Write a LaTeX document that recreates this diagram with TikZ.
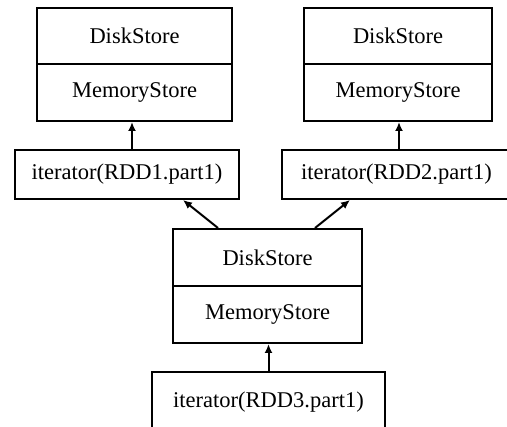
\documentclass[tikz,border=0pt]{standalone}
\usepackage{fontspec}
\setmainfont{Liberation Serif}
\usetikzlibrary{arrows.meta}
\begin{document}
\begin{tikzpicture}[x=1pt,y=-1pt,
  box/.style={draw, line width=2pt, inner sep=0pt, font=\fontsize{22.5}{26}\selectfont},
  arr/.style={line width=2pt, -{Latex[length=9pt,width=8pt]}}]
  \useasboundingbox (0,0) rectangle (507,427);
  \clip (0,0) rectangle (507,427);

  % left store and its iterator
  \node[box, minimum width=195.6pt, minimum height=56pt] (s1disk) at (134.5,36) {DiskStore};
  \node[box, minimum width=195.6pt, minimum height=57pt] (s1mem) at (134.5,92.5) {MemoryStore};
  \node[box, minimum width=224pt, minimum height=49pt] (it1) at (127,174.5) {iterator(RDD1.part1)};

  % right store and its iterator
  \node[box, minimum width=188pt, minimum height=56pt] (s2disk) at (398,36) {DiskStore};
  \node[box, minimum width=188pt, minimum height=57pt] (s2mem) at (398,92.5) {MemoryStore};
  \node[box, minimum width=229pt, minimum height=49pt] (it2) at (396.5,174.5) {iterator(RDD2.part1)};

  % middle store and its iterator
  \node[box, minimum width=189pt, minimum height=57pt] (s3disk) at (267.5,257.5) {DiskStore};
  \node[box, minimum width=189pt, minimum height=57pt] (s3mem) at (267.5,314.5) {MemoryStore};
  \node[box, minimum width=233pt, minimum height=60pt] (it3) at (268.5,402) {iterator(RDD3.part1)};

  % connectors
  \draw[arr] ([xshift=5pt]it1.north) -- ([xshift=5pt]it1.north |- s1mem.south);
  \draw[arr] ([xshift=2.5pt]it2.north) -- ([xshift=2.5pt]it2.north |- s2mem.south);
  \draw[arr] ([xshift=-49.5pt]s3disk.north) -- ([xshift=56pt]it1.south);
  \draw[arr] ([xshift=47.5pt]s3disk.north) -- ([xshift=-46.5pt]it2.south);
  \draw[arr] (it3.north) -- (it3.north |- s3mem.south);
\end{tikzpicture}
\end{document}
